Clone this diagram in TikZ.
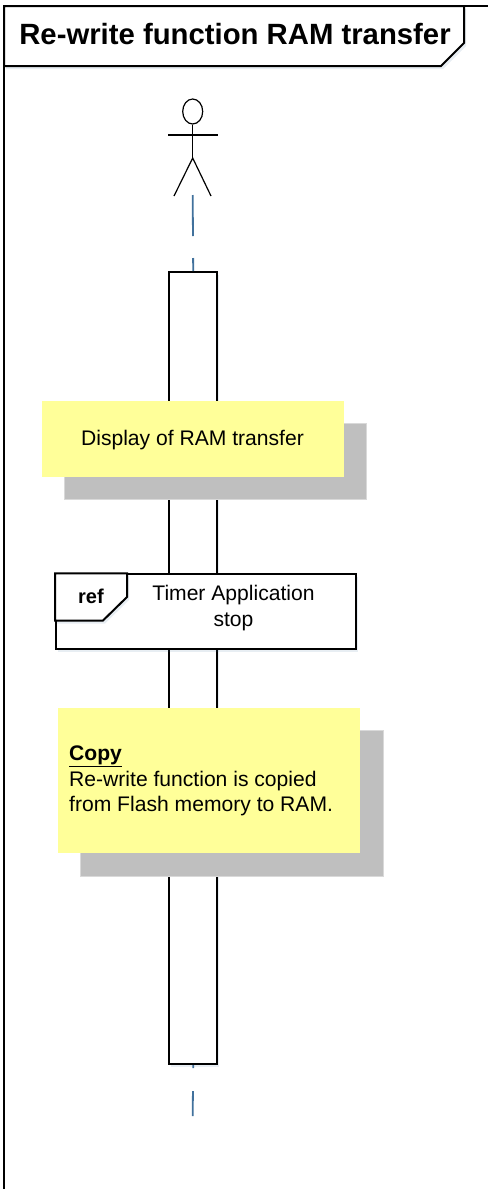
\documentclass[tikz,border=0pt]{standalone}
\usepackage{fontspec}
\setmainfont{Liberation Sans}
\usetikzlibrary{shapes.geometric,shadows}
\tikzset{>=latex}
\definecolor{notefill}{RGB}{255,255,153}
\definecolor{noteshade}{RGB}{191,191,191}
\definecolor{lifeblue}{RGB}{65,113,156}
\tikzset{
    softshade/.style={drop shadow={shadow xshift=2pt,shadow yshift=-3pt,fill=lifeblue,opacity=0.12}},
    framed/.style={draw=black,line width=2pt,fill=white},
    notebox/.style={fill=notefill,minimum width=#1,inner sep=0pt,anchor=north west},
    shadebox/.style={fill=noteshade,draw=black!15,line width=0.5pt,inner sep=0pt,anchor=north west},
    lifeline/.style={draw=lifeblue,line width=1.8pt},
    notetext/.style={font=\fontsize{21.1}{25.5}\selectfont,inner sep=0pt},
}

\begin{document}
\begin{tikzpicture}[x=1pt,y=-1pt]
        \useasboundingbox (0,0) rectangle (488,1189);
        %%% frame
        \draw[line width=2pt] (4,1189) -- (4,6) -- (488,6);
        \draw[framed,softshade] (4,6) -- (464,6) -- (464,43) -- (441,66) -- (4,66) -- cycle;
        \node[font=\fontsize{29.3}{32}\bfseries,inner sep=0pt] (title) at (235,34) {Re-write function RAM transfer};
        %%% actor
        \node[draw,ellipse,line width=1.2pt,minimum width=20pt,minimum height=25pt,inner sep=0pt] (head) at (192.7,111.5) {};
        \coordinate (hip) at (192.7,158);
        \coordinate (armleft) at (168,135);
        \coordinate (armright) at (217.5,135);
        \coordinate (footleft) at (174,196);
        \coordinate (footright) at (211,196);
        \coordinate (actorend) at (192.7,195);
        \draw[line width=1.2pt] (head.south) -- (hip);
        \draw[line width=1.2pt] (armleft) -- (armright);
        \draw[line width=1.2pt] (footleft) -- (hip) -- (footright);
        %%% activation bar
        \node[framed,softshade,anchor=north west,minimum width=48pt,minimum height=792pt,inner sep=0pt] (bar) at (168.2,271) {};
        \coordinate (lifeend) at (192.7,1116);
        \draw[lifeline,dash pattern=on 41pt off 22pt on 13pt] (actorend) -- (bar.north);
        \draw[lifeline,dash pattern=on 3pt off 23pt on 26pt] (bar.south) -- (lifeend);
        %%% display note
        \node[shadebox,minimum width=302pt,minimum height=76pt] (displayshade) at (64,423) {};
        \node[notebox=302pt,minimum height=76pt] (display) at (42,401) {};
        \node[notetext] (displaytext) at (192.5,440) {Display of RAM transfer};
        %%% ref
        \node[framed,softshade,anchor=north west,minimum width=300pt,minimum height=75pt,inner sep=0pt] (refbox) at (55.2,573.4) {};
        \draw[framed,softshade] (55.2,573.4) -- (127,573.4) -- (127,597) -- (103,620.5) -- (55.2,620.5) -- cycle;
        \node[font=\fontsize{20}{24}\bfseries,inner sep=0pt] (reflabel) at (91,596.5) {ref};
        \node[notetext,align=center] (reftext) at (233.5,608) {Timer Application\\stop};
        %%% copy note
        \node[shadebox,minimum width=303pt,minimum height=146pt] (copyshade) at (80,730) {};
        \node[notebox=302pt,minimum height=145pt] (copy) at (58,708) {};
        \node[notetext,align=left,anchor=north west] (copytext) at (69,745.7) {\textbf{\underline{Copy}}\\Re-write function is copied\\from Flash memory to RAM.};
        %%%
\end{tikzpicture}
\end{document}
